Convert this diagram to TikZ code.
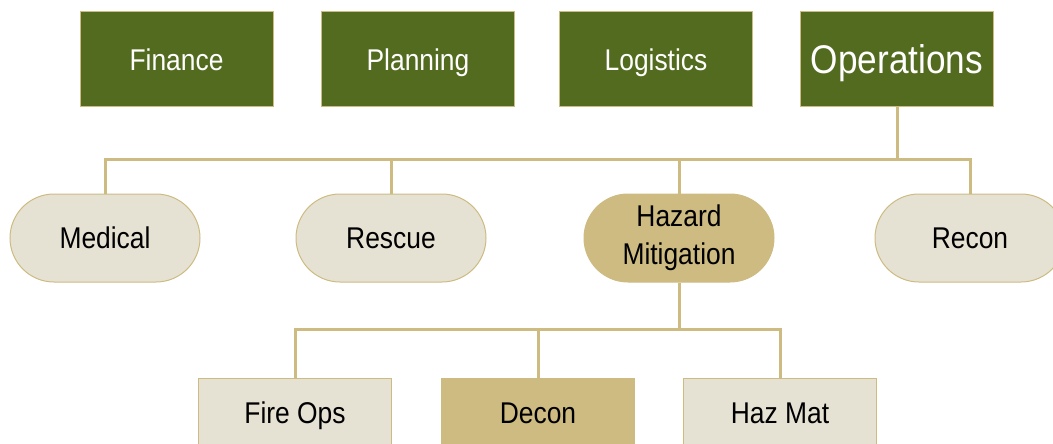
\documentclass[tikz,border=0pt]{standalone}
\usepackage{fontspec}
\setmainfont{Liberation Sans}
\newfontfamily\labfont[FakeStretch=0.88]{Liberation Sans}
\definecolor{dgreen}{HTML}{526B1F}
\definecolor{tan}{HTML}{CDBB82}
\definecolor{light}{HTML}{E6E2D3}
\tikzset{
  topbox/.style={rectangle, draw=tan, line width=1pt, fill=dgreen, text=white,
    minimum width=193pt, minimum height=95pt, inner sep=0pt,
    text height=21.5pt, text depth=0pt,
    font=\labfont\fontsize{30pt}{34pt}\selectfont},
  pill/.style={rectangle, rounded corners=44pt, draw=tan, line width=1pt, fill=light,
    minimum width=190pt, minimum height=88pt, inner sep=0pt, align=center,
    font=\labfont\fontsize{30pt}{38pt}\selectfont},
  onetext/.style={text height=21.5pt, text depth=0pt},
  subbox/.style={rectangle, draw=tan, line width=1pt, fill=light,
    minimum width=193pt, minimum height=70pt, inner sep=0pt,
    text height=21.5pt, text depth=0pt,
    font=\labfont\fontsize{30pt}{34pt}\selectfont},
  conn/.style={draw=tan, line width=3pt}
}
\begin{document}
\begin{tikzpicture}[x=1pt,y=-1pt]
\useasboundingbox (0,0) rectangle (1053,444);
\clip (0,0) rectangle (1053,444);
% top level
\node[topbox] (fin) at (176.5,59.5) {Finance};
\node[topbox] (plan) at (418,59.5) {Planning};
\node[topbox] (log) at (656,59.5) {Logistics};
\node[topbox, text height=28.6pt, font=\labfont\fontsize{40pt}{44pt}\selectfont] (ops) at (897,59.5) {Operations};
% second level
\coordinate (bus1) at (897,159);
\node[pill, onetext] (med) at (105,238) {Medical};
\node[pill, onetext] (res) at (391,238) {Rescue};
\node[pill, fill=tan] (haz) at (679,238) {Hazard\\Mitigation};
\node[pill, onetext] (rec) at (970,238) {Recon};
% third level
\coordinate (bus2) at (679,329);
\node[subbox] (fire) at (295,413) {Fire Ops};
\node[subbox, fill=tan] (decon) at (538,413) {Decon};
\node[subbox] (hazmat) at (780,413) {Haz Mat};
% connectors
\draw[conn] (ops.south) -- (bus1);
\draw[conn] (med.north) |- (bus1);
\draw[conn] (res.north) |- (bus1);
\draw[conn] (haz.north) |- (bus1);
\draw[conn] (rec.north) |- (bus1);
\draw[conn] (haz.south) -- (bus2);
\draw[conn] (fire.north) |- (bus2);
\draw[conn] (decon.north) |- (bus2);
\draw[conn] (hazmat.north) |- (bus2);
\end{tikzpicture}
\end{document}
